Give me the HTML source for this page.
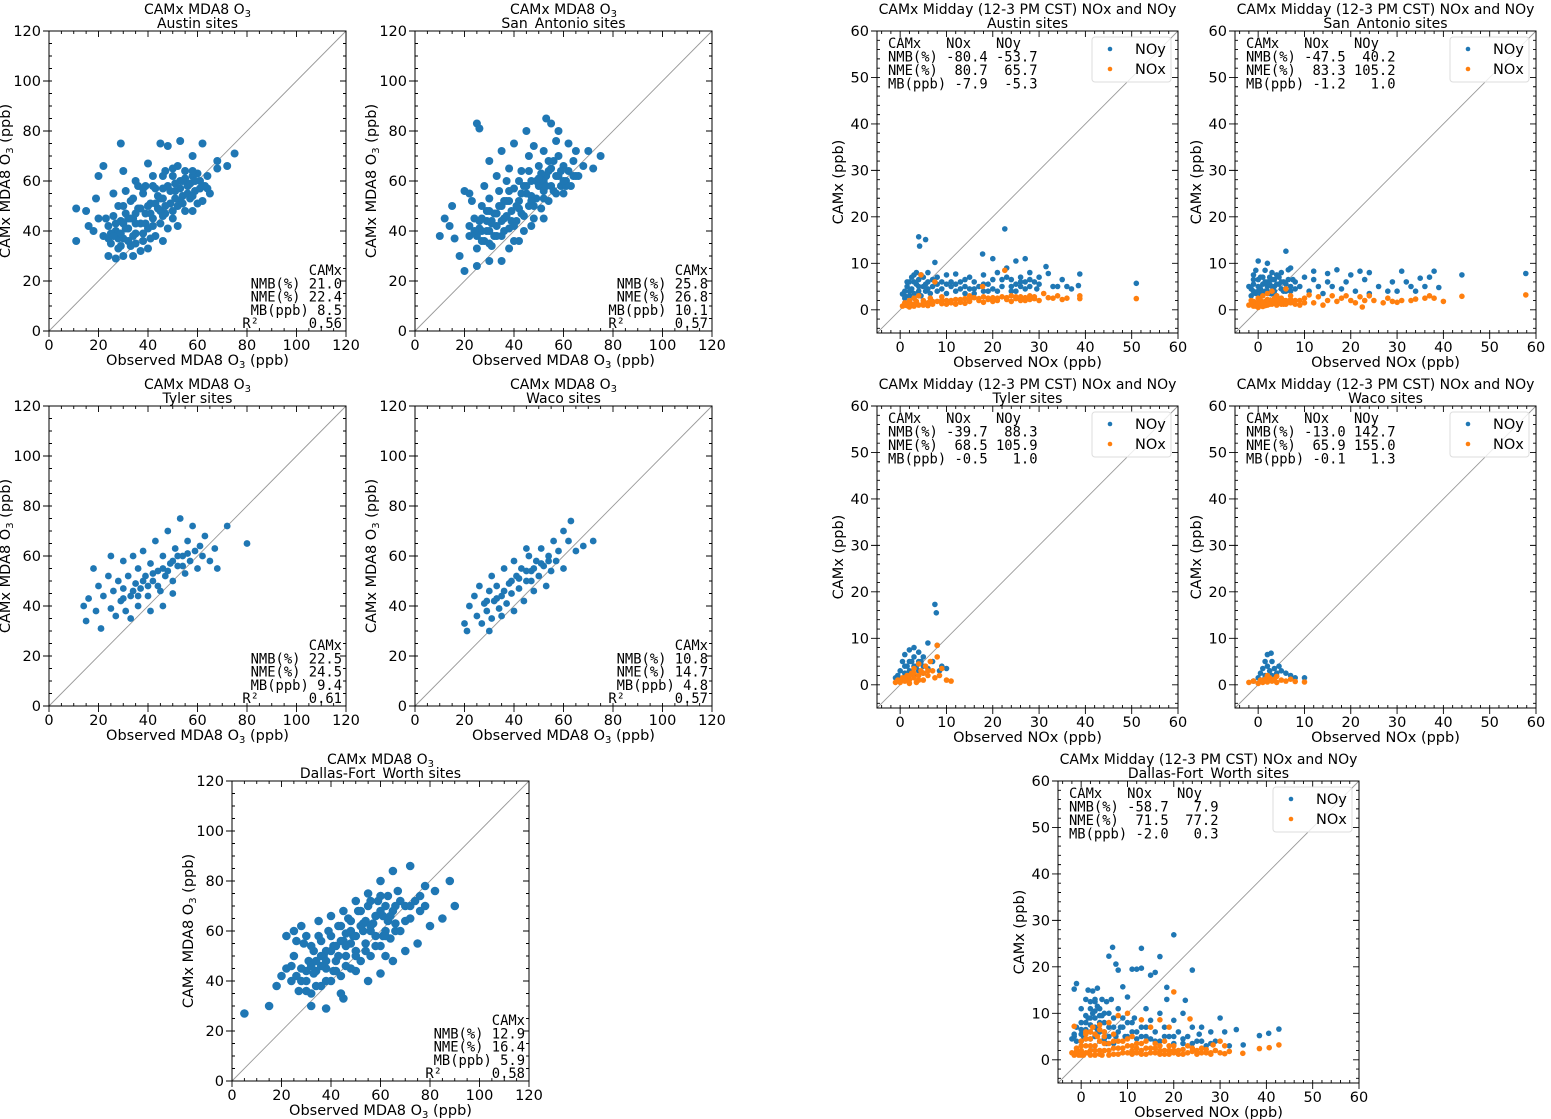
<!DOCTYPE html>
<html><head><meta charset="utf-8"><style>
html,body{margin:0;padding:0;background:#fff;}
svg{display:block;font-family:"DejaVu Sans","Liberation Sans",sans-serif;}
.mono{font-family:"DejaVu Sans Mono","Liberation Mono",monospace;white-space:pre;}
</style></head><body>
<svg id="fig" width="1551" height="1119" viewBox="0 0 1551 1119"></svg>
<script>
// ---------- data: O3 panels [obs, mod] ----------
const austinO3 = [[11,36],[11,49],[15,48],[16,42],[19,53],[20,62],[22,66],[29,75],[30,64],[35,60],[40,67],[45,75],[48,74],[53,76],[62,75],[68,65],[72,66],[75,71],[68,68],[58,70],[24,30],[30,30],[34,30],[27,29],[64,57],[62,52],[58,48],[52,42],[46,36],[40,33],
[22,38],[24,42],[25,35],[26,46],[27,40],[28,33],[28,50],[29,44],[30,37],[31,47],[32,41],[33,34],[33,52],[34,45],[35,39],[36,49],[37,43],[38,36],[38,55],[39,47],[40,41],[41,51],[42,45],[43,38],[43,57],[44,49],[45,43],[46,53],[47,47],[48,41],[48,58],[49,51],[50,45],[51,56],[52,50],[53,60],[54,54],[55,48],[56,58],[57,53],[58,62],[59,56],[60,51],[61,60],[63,58],[64,62],[65,55],[23,45],[26,55],[31,56],[36,58],[42,62],[47,64],[52,66],[20,45],[18,40],[34,38],[39,58],[44,54],[50,62],[55,64],[60,63],[37,32],[41,37],[28,37],[32,45],[45,48],[53,52],[25,39],[30,43],[35,47],[40,50],[46,57],[51,53],[56,55],
[27,43],[29,39],[31,41],[33,45],[35,43],[37,49],[39,43],[41,47],[43,51],[45,53],[47,50],[49,56],[51,59],[53,57],[55,61],[57,59],[59,60],[61,57],[24,37],[26,38],[29,34],[32,36],[35,35],[38,39],[42,42],[46,46],[50,48],[54,51],[58,54],[62,58],[30,50],[34,53],[38,57],[42,58],[46,62],[50,65],[54,60],[58,64]];
const sanAntonioO3 = [[10,38],[12,45],[14,42],[16,37],[18,30],[20,24],[15,50],[20,56],[22,55],[25,83],[26,81],[30,68],[35,72],[40,75],[45,80],[48,74],[53,85],[55,83],[58,80],[62,75],[65,72],[70,72],[75,70],[72,65],[65,62],[60,55],[52,45],[42,36],[38,33],[30,28],[25,26],[35,28],
[22,38],[24,45],[25,33],[26,41],[27,50],[28,36],[29,44],[30,40],[30,53],[31,34],[32,47],[33,42],[34,56],[35,38],[35,50],[36,45],[37,60],[38,41],[38,52],[39,48],[40,57],[41,44],[42,52],[43,64],[43,47],[44,40],[45,55],[46,50],[47,60],[48,45],[49,53],[50,66],[50,58],[51,49],[52,56],[53,62],[54,52],[55,58],[56,68],[57,55],[58,62],[59,58],[60,66],[61,60],[62,64],[63,58],[64,68],[66,62],[68,66],[23,52],[28,58],[33,62],[38,65],[46,70],[52,72],[57,76],[40,36],[47,42],[27,40],[32,38],[37,46],[42,49],[47,54],[52,60],[31,44],[36,52],[44,58],[54,64],
[27,45],[29,40],[31,43],[33,47],[35,44],[37,52],[39,44],[41,50],[43,55],[45,58],[47,52],[49,60],[51,63],[53,58],[55,65],[57,62],[59,64],[61,58],[25,38],[27,36],[30,35],[33,38],[36,40],[40,42],[44,46],[48,50],[52,53],[56,56],[60,60],[64,62],[30,48],[34,50],[38,56],[42,60],[46,64],[50,61],[54,68],[58,70],[26,44],[29,48],[24,40],[22,42]];
const tylerO3 = [[14,40],[15,34],[16,43],[18,55],[19,38],[20,48],[21,31],[22,44],[24,52],[25,39],[26,46],[27,36],[28,50],[29,42],[30,58],[30,47],[31,38],[32,52],[33,44],[34,60],[35,49],[36,40],[36,55],[37,47],[38,62],[39,52],[40,44],[41,57],[42,50],[43,66],[44,54],[45,46],[46,60],[47,52],[48,70],[49,57],[50,50],[51,63],[52,56],[53,75],[54,60],[55,53],[56,66],[57,58],[58,72],[59,62],[60,55],[61,64],[62,60],[63,68],[65,58],[67,63],[68,55],[72,72],[80,65],[41,38],[46,40],[25,60],[33,35],[44,48],[50,45],
[30,43],[34,46],[38,50],[42,53],[46,55],[50,58],[54,56],[40,48],[36,44],[48,54],[52,60],[56,61]];
const wacoO3 = [[20,33],[21,30],[22,40],[24,44],[25,36],[26,48],[27,33],[28,41],[29,38],[30,46],[31,35],[31,52],[32,42],[33,48],[34,39],[35,44],[36,55],[37,41],[38,49],[39,45],[40,58],[40,38],[41,52],[42,47],[43,55],[44,42],[45,50],[46,60],[47,54],[48,46],[49,58],[50,52],[51,63],[52,56],[53,48],[54,60],[55,54],[56,66],[57,58],[58,62],[60,55],[60,70],[62,66],[63,74],[65,62],[68,64],[72,66],[35,36],[30,30],[45,63],
[33,43],[36,46],[39,50],[42,51],[45,54],[48,55],[51,57],[54,58],[29,42],[47,50]];
const dfwO3 = [[5,27],[15,30],[18,38],[20,42],[22,58],[25,60],[28,62],[32,30],[38,29],[45,33],[55,40],[60,43],[65,48],[70,52],[75,55],[80,62],[85,65],[88,80],[90,70],[82,76],[78,78],[72,86],[65,84],[60,80],[55,75],[50,72],[45,68],[40,66],[35,64],[62,50],
[22,45],[24,40],[25,50],[27,36],[28,45],[29,55],[30,40],[31,48],[32,35],[33,52],[34,44],[35,58],[36,38],[37,50],[38,45],[39,60],[40,40],[41,54],[42,48],[43,62],[44,42],[45,56],[46,50],[47,65],[48,45],[49,58],[50,52],[51,68],[52,48],[53,60],[54,55],[55,70],[56,50],[57,63],[58,58],[59,72],[60,54],[61,66],[62,60],[63,74],[64,57],[65,68],[66,63],[67,76],[68,60],[70,70],[72,65],[74,72],[76,68],[78,70],[30,58],[26,56],[44,35],[50,44],[33,43],[38,52],[43,50],[48,55],[53,63],[58,66],[63,64],[36,46],[41,44],[46,59],[56,60],[61,58],
[28,40],[30,44],[32,46],[34,48],[36,50],[38,48],[40,52],[42,54],[44,56],[46,54],[48,60],[50,58],[52,62],[54,64],[56,62],[58,66],[60,68],[62,70],[64,66],[66,70],[68,72],[30,36],[34,38],[38,40],[42,44],[46,46],[50,50],[54,52],[58,54],[62,58],[66,60],[70,64],[32,54],[36,56],[40,58],[44,62],[48,64],[52,68],[56,72],[60,74],[26,42],[24,46],[72,70],[76,74]];
// ---------- data: NOx/NOy panels [observed NOx, CAMx] ----------
const austinNOy = [[0.5,3.4],[1,2.5],[1,4],[1.5,5],[2,3],[2,6],[2.5,4.5],[3,7.5],[3,2.5],[3.5,5.5],[3.5,8],[4,4],[4,6.5],[4.5,3],[5,5],[5,7],[5.5,4],[6,6],[6.5,3.5],[7,5],[7.5,10.2],[4,15.7],[4.2,13.7],[5.5,15.1],[8,4],[9,6],[10,3.5],[10,7.5],[11,5],[12,4],[12,7.7],[13,6],[14,3.5],[14,5],[15,7],[15,4.5],[16,6],[17,5],[17.8,12],[18,4],[18,7.5],[19,5.5],[20,11],[20,6.5],[21,4],[21,8],[22,5],[22.6,17.4],[23,7],[23,9],[24,5],[24,6.5],[25,4],[25,10.5],[26,7],[26,5],[27,11],[27,6],[28,5],[28,8],[29,6],[29.5,4.5],[30,7],[31.5,9.3],[32,7.8],[33,5],[34,5],[35,6.5],[36,5],[37,4.5],[38.8,7.7],[38.5,5.2],[51,5.7],[6,8],[8,7],[11,6],[13,4.5],[16,3.5],[19,4],[25,5.5],[27,4.5],
[1,3],[1.5,6],[2,4],[2.5,7],[3,3.5],[3,6],[4,5],[4.5,7.5],[5.5,5.5],[6,4.5],[7,6.5],[8,5.5],[9,4.5],[10,5.5],[12,5.5],[14,6.5],[16,4.5],[18,5.5],[20,4.5],[22,6.5],[24,4],[26,6],[28,6.5],[30,5.5]];
const austinNOx = [[0.5,0.8],[1,1.5],[1.5,0.9],[2,2],[2.5,1.2],[3,2.5],[3,0.8],[3.5,1.8],[4,3],[4,1],[4.5,7.5],[5,2],[5,1],[6,1.5],[6.5,2.5],[7,1.2],[7.5,6],[8,1.8],[9,1.3],[10,2],[11,1.5],[12,2.2],[13,1.6],[14,2.4],[15,1.8],[16,2.6],[17,2],[17.8,5],[18,2.8],[19,2.2],[20,2.6],[21,2],[22,2.8],[22.6,8.5],[23,2.2],[24,3],[25,2.4],[26,2.8],[27,2],[28,3],[29,2.4],[30,2],[31,3.5],[32,2.6],[33,2.5],[34,3],[35,2.2],[36,2.5],[38.8,3],[38.8,2.4],[51,2.4],[12,1.2],[18,1.6],[24,1.8],[28,2.2],[9,2.8],[15,3],
[1,1],[2,1.5],[3,1.2],[5,1.5],[7,1.8],[9,2],[11,2],[13,2.2],[15,2.2],[17,2.4],[19,2.5],[21,2.5],[23,2.6],[25,2.8],[27,2.6],[29,2.8],[2,0.6],[6,0.9],[10,1.2],[14,1.4],[20,1.8],[26,2]];
const sanAntonioNOy = [[-2,5],[-1.5,3],[-1,6.5],[-1,4],[-0.5,8.5],[0,5],[0,10.5],[0.5,3],[0.5,7],[1,5.5],[1.5,4],[1.5,8.5],[2,6],[2,10],[2.5,3.5],[2.5,7],[3,5],[3,8],[3.5,4],[3.5,6.5],[4,7.5],[4,3],[4.5,5.5],[5,4.5],[5,8],[5.5,6],[6,12.6],[6,4],[6.5,8.6],[7,5],[7,9],[8,4.5],[8,6],[9,5],[10,7],[11,4],[12,8.3],[12,6.5],[13,5],[14,3.5],[15,6],[15,7.8],[16,5],[17,8.6],[18,4.5],[19,6],[20,7.5],[21,4],[22,8.3],[23,6.5],[24,8],[24,3.5],[26,5],[28,4],[29,6],[30,4],[31,8.3],[32,6],[33,5],[34,4],[35,6.8],[36,5],[37,7],[38,8.3],[39,4.8],[44,7.5],[57.8,7.8],
[-1.5,4.5],[-1,5.5],[-0.5,3.5],[0,6.5],[0.5,4.5],[1,7],[1,3.5],[2,5],[2.5,5.5],[3,6.5],[3.5,5],[4,5.5],[4.5,7],[5,6],[5.5,4],[6,5.5],[6.5,6.5],[7,4],[7.5,6.5],[-1,7.5],[0,4],[1.5,6],[3,3.5],[2,4]];
const sanAntonioNOx = [[-2,1],[-1.5,2],[-1,0.8],[-0.5,1.5],[0,0.5],[0,2.5],[0.5,1.2],[1,3],[1,0.7],[1.5,1.8],[2,1],[2,3.5],[2.5,2],[3,1.2],[3,4],[3.5,2.5],[4,1],[4,3],[4.5,1.8],[5,2.5],[5.5,1.2],[6,4.5],[6,2],[7,1.5],[7,3],[8,2],[9,1],[10,2.5],[11,3.2],[12,1.5],[13,2.8],[14,1],[15,2],[16,3],[17,1.8],[18,2.5],[19,3],[20,2],[21,1.5],[22,2.8],[22.5,0.6],[23,2],[24,3],[25,2],[27,1.5],[28,2.5],[29,1.8],[30,1.6],[31,2],[33,2],[34,2.3],[36,2.5],[37,3],[38,2.5],[40,1.8],[44,2.9],[57.8,3.2],
[-1.5,1.2],[-1,1.8],[-0.5,0.8],[0,1.5],[0.5,2],[1,1.5],[1.5,0.9],[2,2.2],[2.5,1.2],[3,2],[3.5,1.5],[4,2.2],[5,1.2],[5.5,2],[6,1.2],[7,2.2],[8,1.2],[9,2],[10,1.5]];
const tylerNOy = [[-1,1.5],[-0.5,2],[0,3],[0,1],[0.5,5],[1,2.5],[1,6.5],[1.5,4],[2,3],[2,7.5],[2.5,5],[3,2],[3,6],[3.5,4],[4,3],[4,7],[4.5,5],[5,2.5],[5,4],[6,3.5],[6,9],[7,5],[7.5,17.3],[7.8,15.5],[8,8.5],[8.5,3],[9,4],[10,3.5],[3,8],[1.5,1.5],[1,4],[2,5],[3,4],[4,5],[2,2],[5,6]];
const tylerNOx = [[-1,0.5],[-0.5,1],[0,0.5],[0.5,1.5],[1,0.8],[1.5,2],[2,1],[2.5,2.5],[3,1.5],[3,3.5],[3.5,0.5],[4,2],[4.5,3],[5,1],[5.5,4],[6,2],[6.5,5],[7,3],[7.5,1.5],[8,6],[8,8.5],[8.5,2],[9,3.5],[10,1],[11,0.8],[4,4.5],[2,0.3],[1,1.5],[2,2],[3,2.5],[4,1],[5,2.5],[6,3]];
const wacoNOy = [[-1,0.8],[0,1.5],[0.5,2.5],[1,1],[1,3.5],[1.5,2],[2,4],[2,6.5],[2.5,3],[3,2],[3,5],[3.5,3.5],[4,2.5],[4.5,4],[5,3],[6,2.5],[7,2],[8,1.5],[10,1.5],[2.8,6.8],[1.5,5]];
const wacoNOx = [[-2,0.5],[-1,0.8],[0,0.3],[0.5,1],[1,0.5],[1.5,1.2],[2,0.6],[2.5,1.5],[3,0.8],[3.5,1.2],[4,0.5],[5,1],[6,0.8],[7,1.2],[8,0.7],[10,0.6],[2,2],[4,1.8]];
const dfwNOy = [[-2,4.5],[-1.5,5.5],[-1,16.4],[-1.5,15.2],[-1,7],[0,4],[0,8],[0,11],[0.5,5],[1,6.5],[1,13],[1.5,9],[1.5,15],[2,4.5],[2,7.5],[2,11],[2.5,14.8],[3,5],[3,9],[3,12.5],[3.5,6.5],[3.5,15.4],[4,4],[4,8],[4,11],[4.5,13],[5,6],[5,10],[5.5,3.5],[5.5,12.5],[6,22.3],[6,7],[6.5,13],[6.8,24.2],[7,9],[7.5,20.6],[7.5,5],[8,19.3],[8,11],[8.5,7],[9,15.7],[9,9],[9.5,5],[10,8],[10,13.5],[11,6],[11,19.5],[11.5,9],[12,19.5],[12,4.5],[13,24],[13,19.7],[13,7],[14,11],[14,5],[15,18.2],[15,8.5],[16,18.8],[16,6],[17,22.2],[17,10],[17,4],[18,7],[18.5,15.6],[18.5,13],[19,5],[20,26.9],[20,8.5],[20,3.5],[21,6],[22,10],[22.5,12.8],[23,5],[24,19.3],[24,7],[25,4],[26,7],[27,3],[28,6],[29,4],[30,9],[31,6],[32,3],[33.5,6.5],[35,3.2],[38.5,5.2],[40.5,5.7],[42.7,6.6],[25.5,5.5],[22,3.5],[1,9.5],[2.5,10],[3.5,11.5],[4.5,9.5],[0.5,6],
[-1.5,5],[-1,4],[0,5.5],[0,6.5],[1,4.5],[1,8],[2,6],[2,9],[3,7],[3,10.5],[4,6],[4,9.5],[5,8],[5,4.5],[6,10],[6,5],[7,7],[7,3.5],[8,6],[9,7],[10,5],[11,8],[12,6],[13,5],[14,7],[15,4.5],[16,4],[18,5],[20,5],[22,4.5],[24,3.5],[26,4],[28,3.5],[3,13],[2,12.5]];
const dfwNOx = [[-2,1.5],[-1.5,7.2],[-1,2.5],[-0.5,1],[0,2],[0,4],[0.5,1],[1,3],[1,6],[1.5,1.5],[2,4.5],[2,2],[2.5,7],[3,1],[3,3],[3.5,5],[4,2],[4,7.5],[4.5,1],[5,3.5],[5,6],[6,2],[6,8],[7,4],[7,1.2],[8,2.5],[8,9.5],[9,4],[9,1.5],[10,3],[10,10],[11,2],[11,5],[12,1.5],[12,3.5],[13,8.6],[13,2],[14,4],[14,1.2],[15,2.5],[15,7],[16,1.5],[16,3.5],[17,2],[17,8.6],[18,1.2],[18,4],[19,2],[19,7],[20,14.6],[20,1.5],[20,3],[21,2],[22,1.2],[23,3],[23.5,8.8],[24,1.8],[25,1.2],[26,2.5],[27,1.5],[28,1.5],[29,2],[30,4],[31,1.3],[31,3],[32,1.8],[34.9,1.4],[38.5,2.4],[40.6,2.6],[42.7,3.2],[28.5,3.2],
[-1.5,1],[-1,1.8],[0,1],[0,3],[1,1.5],[1,4.5],[2,1],[2,3],[3,2],[3,5.5],[4,1.2],[4,4],[5,2],[5,5],[6,1],[6,3.5],[7,2.5],[7,5.5],[8,1.2],[8,4],[9,2.5],[10,1.5],[10,4.5],[11,1.2],[11,3],[12,2.5],[13,1.2],[13,3.5],[14,2.5],[15,1.5],[16,2.5],[17,1.2],[17,3],[18,2],[19,1.2],[19,3],[20,2],[21,1.2],[22,2.2],[23,1.5],[24,2.5],[25,2],[26,1.5],[27,2.2],[28,1.2],[30,1.5],[2,6],[4,6.5],[1,5.5]];
// ---------- tick labels & stats ----------
const o3Ticks = [0,20,40,60,80,100,120];
const noxTicks = [0,10,20,30,40,50,60];
const o3Stats = {austin:["21.0","22.4","8.5","0.56"], sanAntonio:["25.8","26.8","10.1","0.57"], tyler:["22.5","24.5","9.4","0.61"], waco:["10.8","14.7","4.8","0.57"], dfw:["12.9","16.4","5.9","0.58"]};
const noxStatsLines = {
 austin:["CAMx   NOx   NOy","NMB(%) -80.4 -53.7","NME(%)  80.7  65.7","MB(ppb) -7.9  -5.3"],
 sanAntonio:["CAMx   NOx   NOy","NMB(%) -47.5  40.2","NME(%)  83.3 105.2","MB(ppb) -1.2   1.0"],
 tyler:["CAMx   NOx   NOy","NMB(%) -39.7  88.3","NME(%)  68.5 105.9","MB(ppb) -0.5   1.0"],
 waco:["CAMx   NOx   NOy","NMB(%) -13.0 142.7","NME(%)  65.9 155.0","MB(ppb) -0.1   1.3"],
 dfw:["CAMx   NOx   NOy","NMB(%) -58.7   7.9","NME(%)  71.5  77.2","MB(ppb) -2.0   0.3"]};

const NS="http://www.w3.org/2000/svg";
const fig=document.getElementById('fig');
function mk(tag,attrs,parent){const e=document.createElementNS(NS,tag);for(const k in attrs)e.setAttribute(k,attrs[k]);(parent||fig).appendChild(e);return e;}
const BLUE="#1f77b4", ORANGE="#ff7f0e";

function drawPanel(p){
  const g=mk('g',{});
  
  
  const L=p.x,T=p.y,W=p.w,H=p.h;
  const sx=v=>L+(v-p.min)/(p.max-p.min)*W;
  const sy=v=>T+H-(v-p.min)/(p.max-p.min)*H;
  const d=mk('line',{x1:sx(p.min),y1:sy(p.min),x2:sx(p.max),y2:sy(p.max),stroke:'#999','stroke-width':0.9},g);
  
  
  for(const s of p.series){
    const sg=mk('g',{fill:s.color},g);
    
    
    for(const pt of s.data){
      const c=mk('circle',{cx:sx(pt[0]).toFixed(1),cy:sy(pt[1]).toFixed(1),r:p.r},sg);
      
      
    }
  }
  const fr=mk('rect',{x:L,y:T,width:W,height:H,fill:'none',stroke:'#000','stroke-width':1},g);
  
  
  let tp='';
  for(let v=p.minorStart; v<=p.max+1e-6; v+=p.minor){
    const X=sx(v),Y=sy(v);
    tp+=`M${X},${T+H}v-3M${X},${T}v3M${L},${Y}h3M${L+W},${Y}h-3`;
  }
  for(const v of p.ticks){
    const X=sx(v),Y=sy(v);
    tp+=`M${X},${T+H}v6M${X},${T}v6M${L},${Y}h-6M${L+W},${Y}h-6`;
  }
  const tk=mk('path',{d:tp,stroke:'#000','stroke-width':0.9,fill:'none'},g);
  
  
  for(const v of p.ticks){
    const xt=mk('text',{x:sx(v),y:T+H+19,'text-anchor':'middle','font-size':14.5},g);
    xt.textContent=v;
    
    
    const yt=mk('text',{x:L-8,y:sy(v)+5,'text-anchor':'end','font-size':14.5},g);
    yt.textContent=v;
    
    
  }
  const t1=mk('text',{x:L+W/2,y:T-17,'text-anchor':'middle','font-size':14},g);
  t1.innerHTML=p.title1;
  
  
  const t2=mk('text',{x:L+W/2,y:T-3,'text-anchor':'middle','font-size':14},g);
  t2.textContent=p.title2;
  
  
  const xl=mk('text',{x:L+W/2,y:T+H+34,'text-anchor':'middle','font-size':14.5},g);
  xl.innerHTML=p.xlabel;
  
  
  const yx=L-p.ylOff, yy=T+H/2;
  const yl=mk('text',{x:yx,y:yy,'text-anchor':'middle','font-size':14.5,transform:`rotate(-90 ${yx} ${yy})`},g);
  yl.innerHTML=p.ylabel;
  
  
  return g;
}

const SUB3='<tspan dy="3" font-size="10">3</tspan><tspan dy="-3"> </tspan>';
const SUB3T='<tspan dy="3" font-size="10">3</tspan>';
const o3Panels=[
 {id:'austin-o3',x:49,y:31,site:'Austin sites',data:austinO3,stats:o3Stats.austin,r:4},
 {id:'san-antonio-o3',x:415,y:31,site:'San_Antonio sites',data:sanAntonioO3,stats:o3Stats.sanAntonio,r:4},
 {id:'tyler-o3',x:49,y:406,site:'Tyler sites',data:tylerO3,stats:o3Stats.tyler,r:3.4},
 {id:'waco-o3',x:415,y:406,site:'Waco sites',data:wacoO3,stats:o3Stats.waco,r:3.4},
 {id:'dfw-o3',x:232,y:781,site:'Dallas-Fort_Worth sites',data:dfwO3,stats:o3Stats.dfw,r:4.3}];
for(const q of o3Panels){
  const g=drawPanel({id:q.id,x:q.x,y:q.y,w:297,h:300,min:0,max:120,ticks:o3Ticks,minor:5,minorStart:0,r:q.r,
    series:[{name:'camx-o3',color:BLUE,data:q.data}],
    title1:'CAMx MDA8 O'+SUB3T,title2:q.site,xlabel:'Observed MDA8 O'+SUB3+'(ppb)',ylabel:'CAMx MDA8 O'+SUB3+'(ppb)',ylOff:39});
  const R=q.x+293, lines=['CAMx','NMB(%) '+q.stats[0],'NME(%) '+q.stats[1],'MB(ppb) '+q.stats[2]];
  const st=mk('text',{class:'mono','font-size':13.8,'text-anchor':'end'},g);
  
  
  lines.forEach((s,i)=>{const t=mk('tspan',{x:R,y:q.y+244+i*13.3},st);t.textContent=s;});
  const r2=mk('tspan',{x:R,y:q.y+244+4*13.3},st);
  r2.textContent='R\u00b2      '+q.stats[3];
}
const noxPanels=[
 {id:'austin-nox',x:877,y:31,site:'Austin sites',noy:austinNOy,nox:austinNOx,st:noxStatsLines.austin},
 {id:'san-antonio-nox',x:1235,y:31,site:'San_Antonio sites',noy:sanAntonioNOy,nox:sanAntonioNOx,st:noxStatsLines.sanAntonio},
 {id:'tyler-nox',x:877,y:406,site:'Tyler sites',noy:tylerNOy,nox:tylerNOx,st:noxStatsLines.tyler},
 {id:'waco-nox',x:1235,y:406,site:'Waco sites',noy:wacoNOy,nox:wacoNOx,st:noxStatsLines.waco},
 {id:'dfw-nox',x:1058,y:781,site:'Dallas-Fort_Worth sites',noy:dfwNOy,nox:dfwNOx,st:noxStatsLines.dfw}];
for(const q of noxPanels){
  const g=drawPanel({id:q.id,x:q.x,y:q.y,w:301,h:302,min:-5,max:60,ticks:noxTicks,minor:2,minorStart:-4,r:2.8,
    series:[{name:'noy',color:BLUE,data:q.noy},{name:'nox',color:ORANGE,data:q.nox}],
    title1:'CAMx Midday (12-3 PM CST) NOx and NOy',title2:q.site,xlabel:'Observed NOx (ppb)',ylabel:'CAMx (ppb)',ylOff:34});
  const st=mk('text',{class:'mono','font-size':13.8},g);
  
  
  q.st.forEach((s,i)=>{const t=mk('tspan',{x:q.x+11,y:q.y+17+i*13.5},st);t.textContent=s;});
  const lg=mk('g',{},g);
  
  
  mk('rect',{x:q.x+215,y:q.y+6,width:79,height:45,rx:3,fill:'#fff','fill-opacity':0.8,stroke:'#ddd'},lg);
  [['NOy',BLUE],['NOx',ORANGE]].forEach((e,i)=>{
    const en=mk('g',{},lg);
    
    
    mk('circle',{cx:q.x+233,cy:q.y+18+i*20,r:2.3,fill:e[1]},en);
    const t=mk('text',{x:q.x+258,y:q.y+23+i*20,'font-size':14.5},en);
    t.textContent=e[0];
  });
}
</script>
</body></html>
